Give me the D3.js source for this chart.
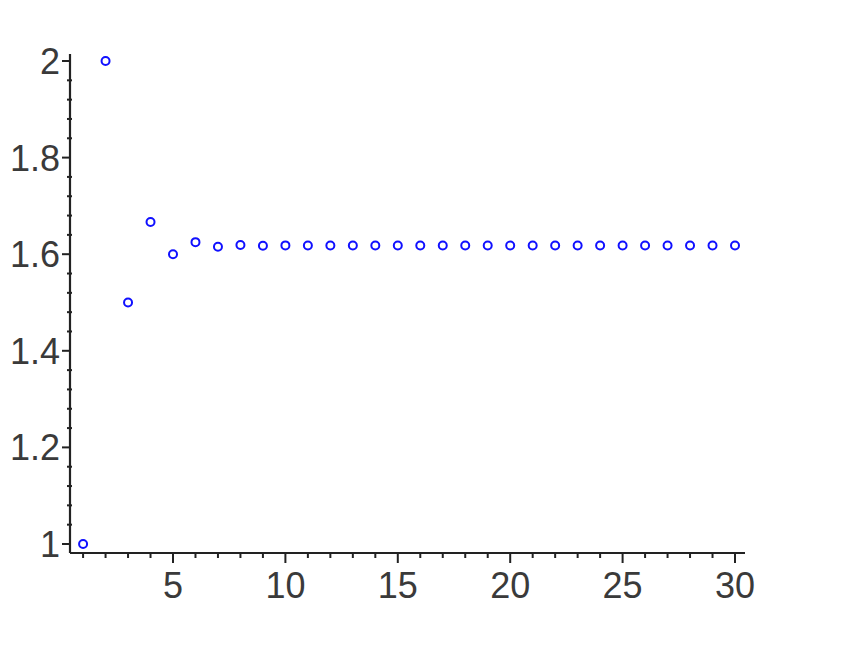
<!DOCTYPE html>
<html>
<head>
<meta charset="utf-8">
<script src="https://cdn.jsdelivr.net/npm/d3@7"></script>
<style>
  html, body { margin: 0; padding: 0; background: #fff; }
  svg { display: block; }
</style>
</head>
<body>
<script>
// Ratios of consecutive Fibonacci numbers, n = 1..30
const nValues = [1,2,3,4,5,6,7,8,9,10,11,12,13,14,15,16,17,18,19,20,21,22,23,24,25,26,27,28,29,30];
const ratioValues = [1, 2, 1.5, 1.6667, 1.6, 1.625, 1.6154, 1.6190, 1.6176, 1.6182,
                     1.6180, 1.6181, 1.6180, 1.6180, 1.6180, 1.6180, 1.6180, 1.6180, 1.6180, 1.6180,
                     1.6180, 1.6180, 1.6180, 1.6180, 1.6180, 1.6180, 1.6180, 1.6180, 1.6180, 1.6180];
const xTickLabels = [5, 10, 15, 20, 25, 30];
const yTickLabels = [1, 1.2, 1.4, 1.6, 1.8, 2];

const W = 860, H = 645;
const svg = d3.select("body").append("svg").attr("width", W).attr("height", H);

// pixel mapping: x=5 -> 173, x=30 -> 735 ; y=1 -> 544, y=2 -> 61
const x = d3.scaleLinear().domain([5, 30]).range([173, 735]);
const y = d3.scaleLinear().domain([1, 2]).range([544, 61]);

const axisColor = "#222";
const textColor = "#3a3a3a";
const font = "'Liberation Sans', Arial, sans-serif";

// Y axis
const yAxisX = 70;
const yMin = y.invert(553), yMax = y.invert(54);
svg.append("line").attr("x1", yAxisX).attr("x2", yAxisX)
  .attr("y1", y(yMin)).attr("y2", y(yMax))
  .attr("stroke", axisColor).attr("stroke-width", 2.2);
const yMinor = d3.range(1.04, 2.001, 0.04).filter(v => !yTickLabels.some(t => Math.abs(t - v) < 1e-6));
svg.append("g").selectAll("line").data(yMinor).join("line")
  .attr("x1", yAxisX - 3).attr("x2", yAxisX + 2)
  .attr("y1", d => y(d)).attr("y2", d => y(d))
  .attr("stroke", axisColor).attr("stroke-width", 2);
svg.append("g").selectAll("line").data(yTickLabels).join("line")
  .attr("x1", yAxisX - 8).attr("x2", yAxisX)
  .attr("y1", d => y(d)).attr("y2", d => y(d))
  .attr("stroke", axisColor).attr("stroke-width", 2);
svg.append("g").selectAll("text").data(yTickLabels).join("text")
  .attr("x", 60).attr("y", d => y(d)).attr("dy", "0.36em")
  .attr("text-anchor", "end")
  .attr("font-family", font).attr("font-size", 36)
  .attr("fill", textColor)
  .text(d => d3.format("")(d));

// X axis
const xAxisY = 553;
svg.append("line").attr("x1", yAxisX).attr("x2", 745)
  .attr("y1", xAxisY).attr("y2", xAxisY)
  .attr("stroke", axisColor).attr("stroke-width", 2.2);
const xMinor = d3.range(1, 31).filter(v => v % 5 !== 0);
svg.append("g").selectAll("line").data(xMinor).join("line")
  .attr("x1", d => x(d)).attr("x2", d => x(d))
  .attr("y1", xAxisY).attr("y2", xAxisY + 5)
  .attr("stroke", axisColor).attr("stroke-width", 2);
svg.append("g").selectAll("line").data(xTickLabels).join("line")
  .attr("x1", d => x(d)).attr("x2", d => x(d))
  .attr("y1", xAxisY).attr("y2", xAxisY + 10)
  .attr("stroke", axisColor).attr("stroke-width", 2);
svg.append("g").selectAll("text").data(xTickLabels).join("text")
  .attr("x", d => x(d)).attr("y", 598)
  .attr("text-anchor", "middle")
  .attr("font-family", font).attr("font-size", 36)
  .attr("fill", textColor)
  .text(d => d);

// Points
svg.append("g").selectAll("circle").data(nValues).join("circle")
  .attr("cx", d => x(d))
  .attr("cy", (d, i) => y(ratioValues[i]))
  .attr("r", 4)
  .attr("fill", "none")
  .attr("stroke", "#1010ff")
  .attr("stroke-width", 2);
</script>
</body>
</html>
